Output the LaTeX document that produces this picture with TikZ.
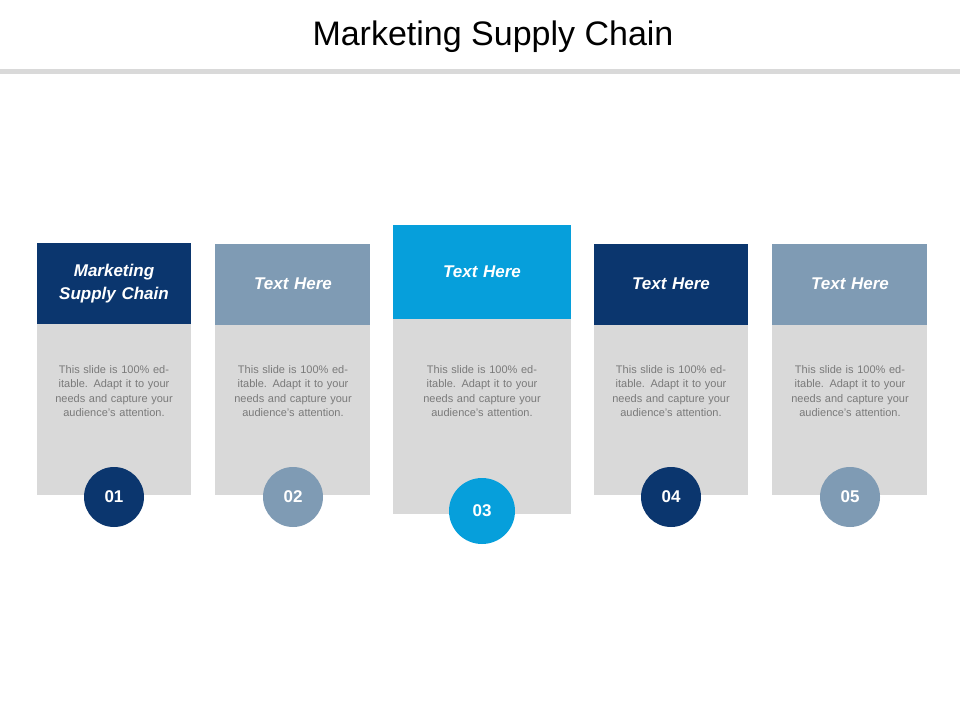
\documentclass[tikz,border=0pt]{standalone}
\usepackage{fontspec}
\setmainfont{Liberation Sans}
\definecolor{navy}{HTML}{0B366E}
\definecolor{steel}{HTML}{7F9BB4}
\definecolor{sky}{HTML}{069FDB}
\definecolor{lgray}{HTML}{D9D9D9}
\definecolor{tgray}{HTML}{7A7A7A}
\begin{document}
\begin{tikzpicture}[x=1pt,y=-1pt,
  body/.style={fill=lgray,draw=none},
  btext/.style={text width=120pt,align=center,font=\fontsize{11}{14.5}\selectfont,text=tgray},
  htext/.style={text width=140pt,align=center,font=\fontsize{17}{23}\selectfont\bfseries\itshape,text=white},
  num/.style={circle,minimum size=60pt,inner sep=0pt,font=\fontsize{17}{20}\selectfont\bfseries,text=white}]
\useasboundingbox (0,0) rectangle (960,720);
\node (title) at (493,37) {\fontsize{34}{40}\selectfont Marketing Supply Chain};
\fill[lgray] (0,69) rectangle (960,74);
% column 1
\fill[lgray] (37,324) rectangle (191,495);
\fill[navy] (37,243) rectangle (191,324);
\node[htext] (h1) at (114,284) {Marketing\\Supply Chain};
\node[btext] (b1) at (114,391) {This slide is 100\% editable. Adapt it to your needs and capture your audience's attention.};
\node[num,fill=navy] (n1) at (114,497) {01};
% column 2
\fill[lgray] (215,325) rectangle (370,495);
\fill[steel] (215,244) rectangle (370,325);
\node[htext] (h2) at (293,284) {Text Here};
\node[btext] (b2) at (293,391) {This slide is 100\% editable. Adapt it to your needs and capture your audience's attention.};
\node[num,fill=steel] (n2) at (293,497) {02};
% column 3
\fill[lgray] (393,319) rectangle (571,514);
\fill[sky] (393,225) rectangle (571,319);
\node[htext] (h3) at (482,272) {Text Here};
\node[btext] (b3) at (482,391) {This slide is 100\% editable. Adapt it to your needs and capture your audience's attention.};
\node[num,fill=sky,minimum size=66pt] (n3) at (482,511) {03};
% column 4
\fill[lgray] (594,325) rectangle (748,495);
\fill[navy] (594,244) rectangle (748,325);
\node[htext] (h4) at (671,284) {Text Here};
\node[btext] (b4) at (671,391) {This slide is 100\% editable. Adapt it to your needs and capture your audience's attention.};
\node[num,fill=navy] (n4) at (671,497) {04};
% column 5
\fill[lgray] (772,325) rectangle (927,495);
\fill[steel] (772,244) rectangle (927,325);
\node[htext] (h5) at (850,284) {Text Here};
\node[btext] (b5) at (850,391) {This slide is 100\% editable. Adapt it to your needs and capture your audience's attention.};
\node[num,fill=steel] (n5) at (850,497) {05};
\end{tikzpicture}
\end{document}
